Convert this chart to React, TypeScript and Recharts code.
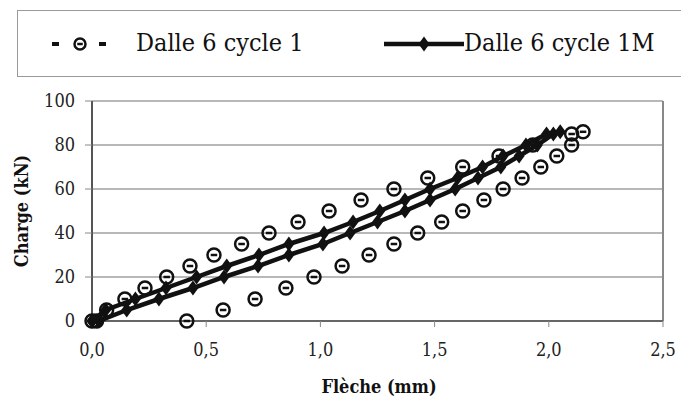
import React from "react";
import { CartesianGrid, ReferenceLine, Scatter, ScatterChart, XAxis, YAxis } from "recharts";

// Dalle 6 cycle 1 : montée puis décharge (flèche en mm, charge en kN)
const CYCLE1_LOAD = [0, 0, 5, 10, 15, 20, 25, 30, 35, 40, 45, 50, 55, 60, 65, 70, 75, 80, 85, 86,
  80, 75, 70, 65, 60, 55, 50, 45, 40, 35, 30, 25, 20, 15, 10, 5, 0];
const CYCLE1_DEFL = [0, 0.02, 0.064, 0.144, 0.232, 0.327, 0.429, 0.534, 0.655, 0.775, 0.902, 1.038, 1.178, 1.322, 1.47, 1.623, 1.782, 1.93, 2.1, 2.15,
  2.1, 2.035, 1.965, 1.883, 1.8, 1.716, 1.623, 1.531, 1.426, 1.322, 1.213, 1.095, 0.972, 0.849, 0.714, 0.574, 0.415];

// Dalle 6 cycle 1M
const CYCLE1M_LOAD = [0, 0, 5, 10, 15, 20, 25, 30, 35, 40, 45, 50, 55, 60, 65, 70, 75, 80, 85, 86,
  85, 80, 75, 70, 65, 60, 55, 50, 45, 40, 35, 30, 25, 20, 15, 10, 5, 0];
const CYCLE1M_DEFL = [0, 0.03, 0.152, 0.293, 0.442, 0.578, 0.727, 0.862, 1.011, 1.13, 1.25, 1.37, 1.48, 1.59, 1.69, 1.79, 1.87, 1.95, 2.02, 2.05,
  1.99, 1.9, 1.8, 1.71, 1.6, 1.48, 1.37, 1.26, 1.143, 1.016, 0.862, 0.731, 0.59, 0.458, 0.324, 0.19, 0.06, 0];

const X_TICKS = [0, 0.5, 1, 1.5, 2, 2.5];
const Y_TICKS = [0, 20, 40, 60, 80, 100];

const cycle1 = CYCLE1_DEFL.map((x, i) => ({ x, y: CYCLE1_LOAD[i] }));
const cycle1M = CYCLE1M_DEFL.map((x, i) => ({ x, y: CYCLE1M_LOAD[i] }));

const FONT = "'DejaVu Serif Condensed', 'DejaVu Serif', serif";
const INK = "#111";

const RingMark = (props: any) => {
  const { cx, cy, r = 6.5 } = props;
  return (
    <g>
      <circle cx={cx} cy={cy} r={r} fill="none" stroke={INK} strokeWidth={2.5} />
      <line x1={cx - r / 2} y1={cy} x2={cx + r / 2} y2={cy} stroke={INK} strokeWidth={2.5} />
    </g>
  );
};

const DiamondMark = (props: any) => {
  const { cx, cy } = props;
  return (
    <polygon
      points={`${cx},${cy - 7.5} ${cx + 5.5},${cy} ${cx},${cy + 7.5} ${cx - 5.5},${cy}`}
      fill={INK}
    />
  );
};

const fmtX = (v: number) => v.toFixed(1).replace(".", ",");

export default function App() {
  return (
    <div style={{ position: "absolute", left: 0, top: 0, width: 681, height: 405, background: "#fff", fontFamily: FONT }}>
      {/* légende */}
      <div
        style={{
          position: "absolute",
          left: 17,
          top: 10,
          width: 680,
          height: 67,
          border: "1.5px solid #999",
          borderRight: "none",
          boxSizing: "border-box",
        }}
      >
        <svg width={70} height={40} style={{ position: "absolute", left: 28, top: 13 }}>
          <line x1={6} y1={20} x2={13} y2={20} stroke={INK} strokeWidth={4} />
          <line x1={53} y1={20} x2={60} y2={20} stroke={INK} strokeWidth={4} />
          <RingMark cx={34} cy={20} r={5.5} />
        </svg>
        <span style={{ position: "absolute", left: 118, top: 16, fontSize: 25, lineHeight: "32px", color: INK }}>
          Dalle 6 cycle 1
        </span>
        <svg width={90} height={40} style={{ position: "absolute", left: 364, top: 13 }}>
          <line x1={2} y1={20} x2={82} y2={20} stroke={INK} strokeWidth={4.5} />
          <DiamondMark cx={42} cy={20} />
        </svg>
        <span style={{ position: "absolute", left: 446, top: 16, fontSize: 25, lineHeight: "32px", color: INK }}>
          Dalle 6 cycle 1M
        </span>
      </div>

      <div
        style={{
          position: "absolute",
          left: 21,
          top: 211,
          transform: "translate(-50%, -50%) rotate(-90deg)",
          fontSize: 18,
          fontWeight: "bold",
          whiteSpace: "nowrap",
          color: INK,
        }}
      >
        Charge (kN)
      </div>
      <div
        style={{
          position: "absolute",
          left: 379,
          top: 386,
          transform: "translate(-50%, -50%)",
          fontSize: 18,
          fontWeight: "bold",
          whiteSpace: "nowrap",
          color: INK,
        }}
      >
        Flèche (mm)
      </div>

      <div style={{ position: "absolute", left: 0, top: 0 }}>
        <ScatterChart width={681} height={405} margin={{ top: 101, right: 18, left: 32, bottom: 54 }}>
          <CartesianGrid vertical={false} stroke="#a0a0a0" strokeWidth={1.5} />
          <ReferenceLine x={2.5} stroke="#888" strokeWidth={2} />
          <XAxis
            type="number"
            dataKey="x"
            domain={[0, 2.5]}
            ticks={X_TICKS}
            tickFormatter={fmtX}
            height={30}
            tickSize={6}
            tickMargin={16}
            axisLine={{ stroke: "#666", strokeWidth: 2 }}
            tickLine={{ stroke: "#888" }}
            tick={{ fill: "#222", fontSize: 18, fontFamily: FONT }}
          />
          <YAxis
            type="number"
            dataKey="y"
            domain={[0, 100]}
            ticks={Y_TICKS}
            width={60}
            tickSize={7}
            tickMargin={10}
            axisLine={{ stroke: "#555", strokeWidth: 2 }}
            tickLine={{ stroke: "#888" }}
            tick={{ fill: "#222", fontSize: 18, fontFamily: FONT }}
          />
          <Scatter
            name="Dalle 6 cycle 1M"
            data={cycle1M}
            line={{ stroke: INK, strokeWidth: 4.5 }}
            lineJointType="linear"
            shape={DiamondMark}
            isAnimationActive={false}
          />
          <Scatter
            name="Dalle 6 cycle 1"
            data={cycle1}
            shape={RingMark}
            isAnimationActive={false}
          />
        </ScatterChart>
      </div>
    </div>
  );
}
